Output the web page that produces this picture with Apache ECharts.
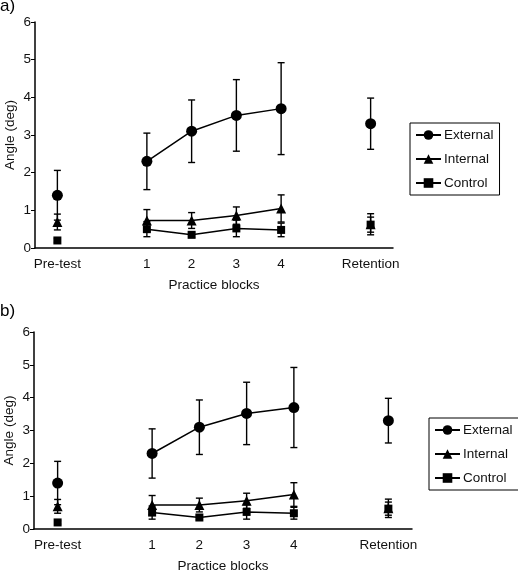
<!DOCTYPE html>
<html>
<head>
<meta charset="utf-8">
<script src="https://cdn.jsdelivr.net/npm/echarts@6/dist/echarts.min.js"></script>
<style>
html,body{margin:0;padding:0;background:#fff;}
#chart{width:518px;height:571px;}
</style>
</head>
<body>
<div id="chart"></div>
<script>
const categories = ['Pre-test', '', '1', '2', '3', '4', ' ', 'Retention'];
const yTicks = [0, 1, 2, 3, 4, 5, 6];
const seriesNames = ['External', 'Internal', 'Control'];
const external = [1.4, null, 2.3, 3.1, 3.52, 3.7, null, 3.3];
const externalErr = [0.66, null, 0.75, 0.83, 0.95, 1.22, null, 0.68];
const internal = [0.69, null, 0.73, 0.73, 0.86, 1.05, null, 0.63];
const internalErr = [0.21, null, 0.29, 0.21, 0.23, 0.36, null, 0.28];
const control = [0.2, null, 0.5, 0.35, 0.52, 0.48, null, 0.62];
const controlErr = [0.05, null, 0.2, 0.07, 0.22, 0.18, null, 0.2];

const means = [external, internal, control];
const errs = [externalErr, internalErr, controlErr];
const symbols = ['circle', 'triangle', 'rect'];
const symbolSizes = [11, 10, 8];

const FONT = 'Liberation Sans, Arial, sans-serif';

function errData(m, e) {
  const out = [];
  m.forEach((v, i) => {
    if (v !== null && e[i] !== null) out.push([i, v - e[i], v + e[i]]);
  });
  return out;
}

function renderErr(params, api) {
  const x = api.value(0);
  const lo = api.coord([x, api.value(1)]);
  const hi = api.coord([x, api.value(2)]);
  const w = 3.5;
  const st = { stroke: '#000', lineWidth: 1.4 };
  return {
    type: 'group',
    children: [
      { type: 'line', shape: { x1: lo[0], y1: lo[1], x2: hi[0], y2: hi[1] }, style: st },
      { type: 'line', shape: { x1: lo[0] - w, y1: lo[1], x2: lo[0] + w, y2: lo[1] }, style: st },
      { type: 'line', shape: { x1: hi[0] - w, y1: hi[1], x2: hi[0] + w, y2: hi[1] }, style: st }
    ]
  };
}

const grids = [
  { left: 35, top: 22, width: 358, height: 226, containLabel: false, outerBoundsMode: 'none' },
  { left: 34, top: 332, width: 378, height: 197, containLabel: false, outerBoundsMode: 'none' }
];

const axisLabelStyle = { color: '#111', fontSize: 13.5, fontFamily: FONT };

const xAxes = grids.map((g, gi) => ({
  type: 'category',
  gridIndex: gi,
  data: categories,
  boundaryGap: true,
  axisLine: { lineStyle: { color: '#000', width: 1.5 } },
  axisTick: { alignWithLabel: true, length: 4, lineStyle: { color: '#000', width: 1 } },
  axisLabel: Object.assign({ interval: 0, margin: 9 }, axisLabelStyle),
  name: 'Practice blocks',
  nameLocation: 'middle',
  nameGap: 30,
  nameMoveOverlap: false,
  nameTextStyle: axisLabelStyle,
  splitLine: { show: false }
}));

const yAxes = grids.map((g, gi) => ({
  type: 'value',
  gridIndex: gi,
  min: yTicks[0],
  max: yTicks[yTicks.length - 1],
  interval: 1,
  axisLine: { show: true, lineStyle: { color: '#000', width: 1.5 } },
  axisTick: { show: true, length: 4, lineStyle: { color: '#000', width: 1 } },
  axisLabel: Object.assign({ margin: 4 }, axisLabelStyle),
  splitLine: { show: false },
  name: 'Angle (deg)',
  nameLocation: 'middle',
  nameGap: 18,
  nameMoveOverlap: false,
  nameTextStyle: axisLabelStyle
}));

const series = [];
grids.forEach((g, gi) => {
  seriesNames.forEach((name, si) => {
    series.push({
      name: name + ' SD',
      type: 'custom',
      xAxisIndex: gi,
      yAxisIndex: gi,
      renderItem: renderErr,
      encode: { x: 0, y: [1, 2] },
      data: errData(means[si], errs[si]),
      silent: true,
      z: 1
    });
  });
  seriesNames.forEach((name, si) => {
    series.push({
      name: name,
      type: 'line',
      xAxisIndex: gi,
      yAxisIndex: gi,
      data: means[si],
      connectNulls: false,
      symbol: symbols[si],
      symbolSize: symbolSizes[si],
      showSymbol: true,
      showAllSymbol: true,
      lineStyle: { color: '#000', width: 1.5 },
      itemStyle: { color: '#000' },
      z: 3
    });
  });
});

const legendBase = {
  orient: 'vertical',
  data: seriesNames,
  borderColor: '#000',
  borderWidth: 1,
  padding: [5, 6, 5, 5],
  itemWidth: 25,
  itemHeight: 12,
  itemGap: 10,
  textStyle: { color: '#111', fontSize: 13.5, fontFamily: FONT, padding: [0, 0, 0, -2] }
};

const option = {
  backgroundColor: '#fff',
  animation: false,
  textStyle: { fontFamily: FONT },
  title: [
    { text: 'a)', left: 0, top: -2, padding: 0, textStyle: { fontSize: 17, fontWeight: 'normal', color: '#000', fontFamily: FONT } },
    { text: 'b)', left: 0, top: 303, padding: 0, textStyle: { fontSize: 17, fontWeight: 'normal', color: '#000', fontFamily: FONT } }
  ],
  grid: grids,
  xAxis: xAxes,
  yAxis: yAxes,
  legend: [
    Object.assign({ left: 410, top: 123 }, legendBase),
    Object.assign({ left: 429, top: 418 }, legendBase)
  ],
  series: series
};

const chart = echarts.init(document.getElementById('chart'), null, { renderer: 'canvas' });
chart.setOption(option);
</script>
</body>
</html>
